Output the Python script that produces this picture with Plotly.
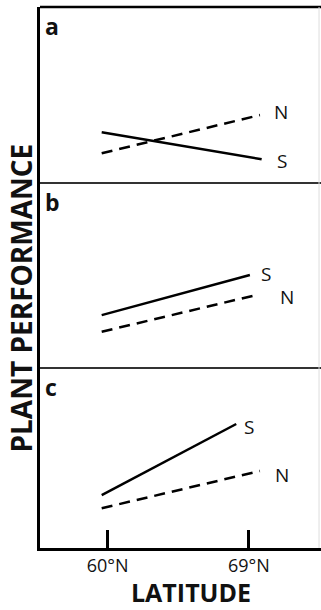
import plotly.graph_objects as go
from plotly.subplots import make_subplots

# Panels and the two source populations (S = southern, N = northern)
panels = ["a", "b", "c"]

# Latitude (°N) at the two ends of each reaction line
s_lat = [[59.62, 69.81], [59.62, 69.06], [59.62, 68.19]]
n_lat = [[59.62, 69.70], [59.62, 69.49], [59.62, 69.70]]

# Relative plant performance at those ends (arbitrary 0-10 scale)
s_perf = [[2.88, 1.35], [2.86, 5.03], [2.94, 6.89]]
n_perf = [[1.69, 3.86], [1.96, 3.95], [2.21, 4.28]]

tick_vals = [60, 69]
tick_text = ["60°N", "69°N"]

FONT = "Open Sans"

fig = make_subplots(rows=3, cols=1, shared_xaxes=True, vertical_spacing=0)

# label nudges (px) for the end-of-line population labels
s_shift = [(20, -2), (16, 1), (13, -3)]
n_shift = [(21, 3), (30, -2), (22, -4)]

for i, p in enumerate(panels):
    row = i + 1
    fig.add_trace(go.Scatter(x=s_lat[i], y=s_perf[i], mode="lines",
                             line=dict(color="black", width=2.5),
                             showlegend=False, hoverinfo="skip"), row=row, col=1)
    fig.add_trace(go.Scatter(x=n_lat[i], y=n_perf[i], mode="lines",
                             line=dict(color="black", width=2.5, dash="11px,7px"),
                             showlegend=False, hoverinfo="skip"), row=row, col=1)
    xr = "x" if row == 1 else f"x{row}"
    yr = "y" if row == 1 else f"y{row}"
    fig.add_annotation(x=s_lat[i][1], y=s_perf[i][1], xref=xr, yref=yr, text="S",
                       showarrow=False, xanchor="center", yanchor="middle",
                       xshift=s_shift[i][0], yshift=s_shift[i][1],
                       font=dict(family=FONT, size=19, color="#111"))
    fig.add_annotation(x=n_lat[i][1], y=n_perf[i][1], xref=xr, yref=yr, text="N",
                       showarrow=False, xanchor="center", yanchor="middle",
                       xshift=n_shift[i][0], yshift=n_shift[i][1],
                       font=dict(family=FONT, size=19, color="#111"))
    # panel letter
    fig.add_annotation(x=0, y=1, xref=f"{xr} domain", yref=f"{yr} domain", text=f"<b>{p}</b>",
                       showarrow=False, xanchor="left", yanchor="top",
                       xshift=3, yshift=-1,
                       font=dict(family=FONT, size=23, color="#111"))

# panel domains (top to bottom: a, b, c)
domains = [[0.6747, 1.0], [0.3327, 0.6747], [0.0, 0.3327]]
for i in range(3):
    key = "yaxis" if i == 0 else f"yaxis{i + 1}"
    fig.layout[key].update(domain=domains[i], range=[0, 10], showticklabels=False,
                           ticks="", showgrid=False, zeroline=False,
                           showline=True, linecolor="black", linewidth=2.5)
    xkey = "xaxis" if i == 0 else f"xaxis{i + 1}"
    fig.layout[xkey].update(range=[55.69, 73.59], showgrid=False, zeroline=False,
                            showticklabels=False, ticks="")

fig.update_xaxes(row=3, col=1, showticklabels=True, tickvals=tick_vals, ticktext=tick_text,
                 ticks="inside", ticklen=18, tickwidth=2.5, tickcolor="black",
                 showline=True, linecolor="black", linewidth=2.5,
                 tickfont=dict(family=FONT, size=18, color="#111"))

# frame: top edge and panel dividers
for yy, col, w in [(1.0, "black", 2.5), (0.6747, "#333", 2), (0.3327, "#333", 2)]:
    fig.add_shape(type="line", xref="paper", yref="paper", x0=0, x1=1, y0=yy, y1=yy,
                  line=dict(color=col, width=w))
fig.add_shape(type="line", xref="paper", yref="paper", x0=0.993, x1=0.993, y0=0, y1=1,
              line=dict(color="#dddddd", width=1))

# axis titles
fig.add_annotation(x=0, y=0.462, xref="paper", yref="paper", text="<b>PLANT PERFORMANCE</b>",
                   textangle=-90, showarrow=False, xanchor="center", yanchor="middle",
                   xshift=-18.5, font=dict(family=FONT, size=28, color="#111"))
fig.add_annotation(x=0.537, y=0, xref="paper", yref="paper", text="<b>LATITUDE</b>",
                   showarrow=False, xanchor="center", yanchor="bottom", borderpad=0,
                   yshift=-62, font=dict(family=FONT, size=25, color="#111"))

fig.update_layout(width=321, height=610, margin=dict(l=40, r=0, t=7, b=62),
                  paper_bgcolor="white", plot_bgcolor="white")

fig.write_html("out.html")
